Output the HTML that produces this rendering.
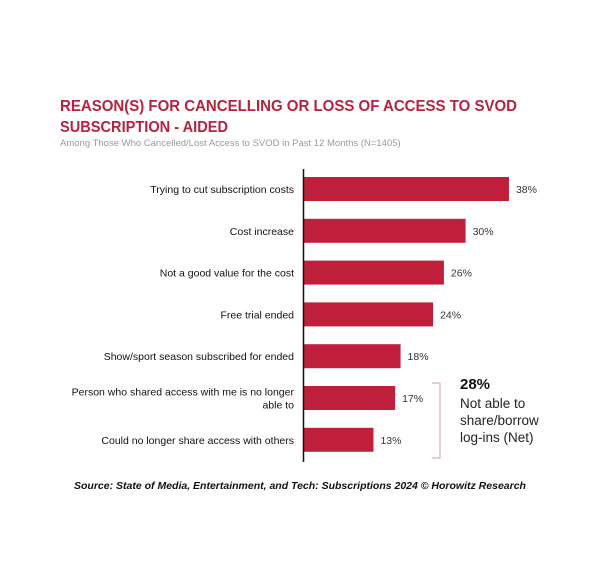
<!DOCTYPE html>
<html><head><meta charset="utf-8"><style>
body{margin:0;background:#fff;font-family:"Liberation Sans",Arial,sans-serif}
#c{position:relative;width:600px;height:573px;overflow:hidden}
</style></head><body>
<div id="c">
<svg width="600" height="573" xmlns="http://www.w3.org/2000/svg" id="svg">
<text x="60" y="111" font-size="15.5" font-weight="bold" fill="#b8223f" textLength="457" lengthAdjust="spacingAndGlyphs">REASON(S) FOR CANCELLING OR LOSS OF ACCESS TO SVOD</text>
<text x="60" y="132" font-size="15.5" font-weight="bold" fill="#b8223f" textLength="168" lengthAdjust="spacingAndGlyphs">SUBSCRIPTION - AIDED</text>
<text x="60" y="146" font-size="9.5" fill="#999">Among Those Who Cancelled/Lost Access to SVOD in Past 12 Months (N=1405)</text>
<g id="bars"></g>
<line x1="303.5" y1="169" x2="303.5" y2="462" stroke="#111" stroke-width="1.5"/>
<path d="M432 383 H440 V458 H432" fill="none" stroke="#c9a0a8" stroke-width="1"/>
<text x="460" y="389" font-size="15" font-weight="bold" fill="#111">28%</text>
<text font-size="13.5" fill="#222"><tspan x="460" y="408">Not able to</tspan><tspan x="460" y="425">share/borrow</tspan><tspan x="460" y="442">log-ins (Net)</tspan></text>
<text x="300" y="489" font-size="10.5" font-weight="bold" font-style="italic" fill="#111" text-anchor="middle">Source: State of Media, Entertainment, and Tech: Subscriptions 2024 © Horowitz Research</text>
</svg>
</div>
<script>
const categories=[["Trying to cut subscription costs"],["Cost increase"],["Not a good value for the cost"],["Free trial ended"],["Show/sport season subscribed for ended"],["Person who shared access with me is no longer","able to"],["Could no longer share access with others"]];
const values=[38,30,26,24,18,17,13];
const valueLabels=["38%","30%","26%","24%","18%","17%","13%"];
const NS="http://www.w3.org/2000/svg";
const x0=303,scale=5.42,top0=189,step=41.8,bh=24;
const xs=v=>x0+v*scale, ys=i=>top0+i*step;
const g=document.getElementById('bars');
values.forEach((v,i)=>{
 const r=document.createElementNS(NS,'rect');
 r.setAttribute('x',x0);r.setAttribute('y',ys(i)-bh/2);r.setAttribute('width',xs(v)-x0);r.setAttribute('height',bh);r.setAttribute('fill','#c01f3c');
 
 
 g.appendChild(r);
 const t=document.createElementNS(NS,'text');
 t.setAttribute('x',xs(v)+7);t.setAttribute('y',ys(i)+4);t.setAttribute('font-size','10.5');t.setAttribute('fill','#333');
 t.textContent=valueLabels[i];
 
 
 g.appendChild(t);
 const lines=categories[i];
 const l=document.createElementNS(NS,'text');
 l.setAttribute('text-anchor','end');l.setAttribute('font-size','10.5');l.setAttribute('fill','#111');
 lines.forEach((s,k)=>{const ts=document.createElementNS(NS,'tspan');ts.setAttribute('x',294);ts.setAttribute('y',ys(i)+4+(k-(lines.length-1)/2)*13);ts.textContent=s;l.appendChild(ts);});
 
 
 g.appendChild(l);
});
</script>
</body></html>
